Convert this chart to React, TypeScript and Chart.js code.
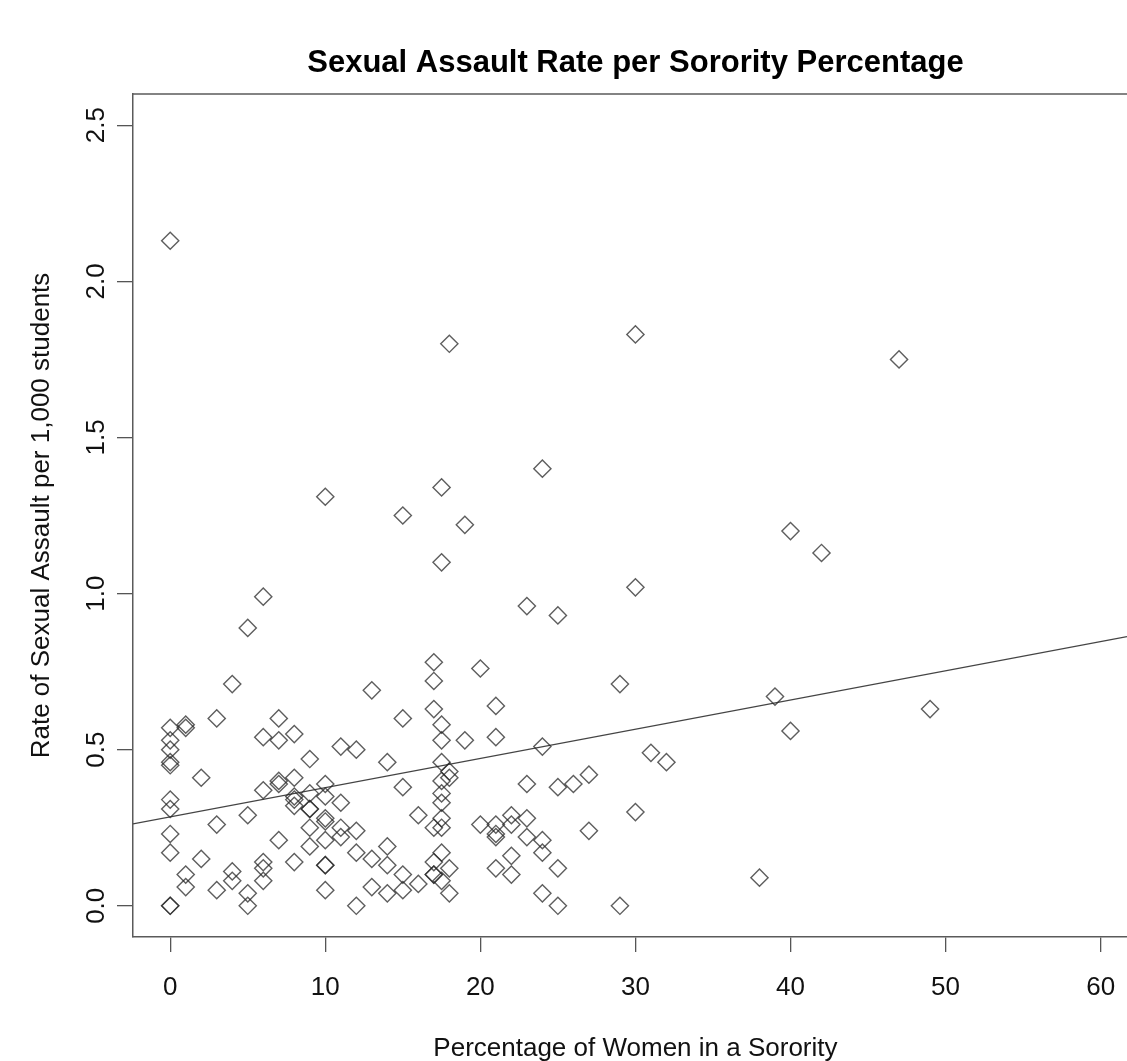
import React, { useEffect, useRef } from "react";
import { Chart, registerables } from "chart.js";

Chart.register(...registerables);

const TITLE = "Sexual Assault Rate per Sorority Percentage";
const X_LABEL = "Percentage of Women in a Sorority";
const Y_LABEL = "Rate of Sexual Assault per 1,000 students";

const X_TICKS = [0, 10, 20, 30, 40, 50, 60];
const X_TICK_LABELS = ["0", "10", "20", "30", "40", "50", "60"];
const Y_TICKS = [0, 0.5, 1, 1.5, 2, 2.5];
const Y_TICK_LABELS = ["0.0", "0.5", "1.0", "1.5", "2.0", "2.5"];

// axis ranges (R style 4% extension; right side cropped by the image)
const X_MIN = -2.4;
const X_MAX = 61.7;
const X_PLOT_RIGHT = 62.4;
const Y_MIN = -0.1;
const Y_MAX = 2.6;

// percentage of women in a sorority (x) and rate per 1,000 students (y)
const sororityPct = [
  0, 0, 0, 0, 0, 0, 0, 0, 0, 0, 0, 0,
  1, 1, 1, 1,
  2, 2,
  3, 3, 3,
  4, 4, 4,
  5, 5, 5, 5,
  6, 6, 6, 6, 6, 6,
  7, 7, 7, 7, 7,
  8, 8, 8, 8, 8, 8,
  9, 9, 9, 9, 9, 9,
  10, 10, 10, 10, 10, 10, 10, 10, 10,
  11, 11, 11, 11,
  12, 12, 12, 12,
  13, 13, 13,
  14, 14, 14, 14,
  15, 15, 15, 15, 15,
  16, 16,
  17, 17, 17, 17, 17, 17, 17,
  17.5, 17.5, 17.5, 17.5, 17.5, 17.5, 17.5, 17.5, 17.5, 17.5, 17.5, 17.5,
  18, 18, 18, 18, 18,
  19, 19,
  20, 20,
  21, 21, 21, 21, 21, 21,
  22, 22, 22, 22,
  23, 23, 23, 23,
  24, 24, 24, 24, 24,
  25, 25, 25, 25,
  26,
  27, 27,
  29, 29,
  30, 30, 30,
  31,
  32,
  38,
  39,
  40, 40,
  42,
  47,
  49,
];

const assaultRate = [
  2.13, 0.57, 0.53, 0.5, 0.46, 0.45, 0.34, 0.31, 0.23, 0.17, 0, 0,
  0.58, 0.57, 0.1, 0.06,
  0.41, 0.15,
  0.6, 0.26, 0.05,
  0.71, 0.11, 0.08,
  0.89, 0.29, 0.04, 0,
  0.99, 0.54, 0.37, 0.14, 0.12, 0.08,
  0.6, 0.53, 0.4, 0.39, 0.21,
  0.55, 0.41, 0.35, 0.34, 0.32, 0.14,
  0.47, 0.36, 0.31, 0.31, 0.25, 0.19,
  1.31, 0.39, 0.35, 0.28, 0.27, 0.21, 0.13, 0.13, 0.05,
  0.51, 0.33, 0.25, 0.22,
  0.5, 0.24, 0.17, 0,
  0.69, 0.15, 0.06,
  0.46, 0.19, 0.13, 0.04,
  1.25, 0.6, 0.38, 0.1, 0.05,
  0.29, 0.07,
  0.78, 0.72, 0.63, 0.25, 0.14, 0.1, 0.1,
  1.34, 1.1, 0.58, 0.53, 0.46, 0.4, 0.36, 0.33, 0.28, 0.25, 0.17, 0.08,
  1.8, 0.43, 0.41, 0.12, 0.04,
  1.22, 0.53,
  0.76, 0.26,
  0.64, 0.54, 0.26, 0.23, 0.22, 0.12,
  0.29, 0.26, 0.16, 0.1,
  0.96, 0.39, 0.28, 0.22,
  1.4, 0.51, 0.21, 0.17, 0.04,
  0.93, 0.38, 0.12, 0,
  0.39,
  0.42, 0.24,
  0.71, 0,
  1.83, 1.02, 0.3,
  0.49,
  0.46,
  0.09,
  0.67,
  1.2, 0.56,
  1.13,
  1.75,
  0.63,
];

// least-squares fit line (abline)
const FIT_INTERCEPT = 0.285;
const FIT_SLOPE = 0.00935;

const FONT = '"Liberation Sans", Arial, Helvetica, sans-serif';
const BASE_PX = 26;
const BOX_COLOR = "#5a5a5a";

const rTextPlugin = {
  id: "rText",
  afterDraw(chart: any) {
    const { ctx, chartArea, scales } = chart;
    const xs = scales.x;
    const ys = scales.y;
    ctx.save();
    // top border of the plot box
    ctx.strokeStyle = BOX_COLOR;
    ctx.lineWidth = 1.5;
    ctx.beginPath();
    ctx.moveTo(chartArea.left, chartArea.top);
    ctx.lineTo(chartArea.right, chartArea.top);
    ctx.stroke();

    ctx.fillStyle = "#111";
    ctx.font = `${BASE_PX}px ${FONT}`;
    ctx.textAlign = "center";
    ctx.textBaseline = "alphabetic";

    // x tick labels
    X_TICKS.forEach((v, i) => {
      ctx.fillText(X_TICK_LABELS[i], xs.getPixelForValue(v), 995);
    });
    // y tick labels (rotated, R las = 0)
    Y_TICKS.forEach((v, i) => {
      const y = ys.getPixelForValue(v);
      ctx.save();
      ctx.translate(104, y);
      ctx.rotate(-Math.PI / 2);
      ctx.fillText(Y_TICK_LABELS[i], 0, 0);
      ctx.restore();
    });

    const plotCenterX =
      (chartArea.left + xs.getPixelForValue(X_PLOT_RIGHT)) / 2;
    const plotCenterY = (chartArea.top + chartArea.bottom) / 2;

    // x axis title
    ctx.fillText(X_LABEL, plotCenterX, 1056);
    // y axis title
    ctx.save();
    ctx.translate(49, plotCenterY);
    ctx.rotate(-Math.PI / 2);
    ctx.fillText(Y_LABEL, 0, 0);
    ctx.restore();

    // main title
    ctx.fillStyle = "#000";
    ctx.font = `bold ${Math.round(BASE_PX * 1.2)}px ${FONT}`;
    ctx.fillText(TITLE, plotCenterX, 72);
    ctx.restore();
  },
};

export default function App() {
  const canvasRef = useRef<HTMLCanvasElement | null>(null);

  useEffect(() => {
    const canvas = canvasRef.current;
    if (!canvas) return;
    const points = sororityPct.map((x, i) => ({ x, y: assaultRate[i] }));
    const fitLine = [X_MIN, X_MAX].map((x) => ({
      x,
      y: FIT_INTERCEPT + FIT_SLOPE * x,
    }));

    const chart = new Chart(canvas, {
      type: "scatter",
      data: {
        datasets: [
          {
            label: "points",
            data: points,
            pointStyle: "rectRot",
            pointRadius: 8.6,
            pointBorderWidth: 1.4,
            borderColor: "rgba(40,40,40,0.75)",
            backgroundColor: "rgba(0,0,0,0)",
            pointBackgroundColor: "rgba(0,0,0,0)",
            pointBorderColor: "rgba(40,40,40,0.75)",
          } as any,
          {
            label: "fit",
            data: fitLine,
            showLine: true,
            pointRadius: 0,
            borderColor: "#444",
            borderWidth: 1.3,
            fill: false,
          } as any,
        ],
      },
      options: {
        animation: false,
        responsive: false,
        devicePixelRatio: 1,
        layout: {
          autoPadding: false,
          padding: { left: 0, top: 94, right: 0, bottom: 0 },
        },
        plugins: {
          legend: { display: false },
          tooltip: { enabled: false },
          title: { display: false },
        },
        scales: {
          x: {
            type: "linear",
            min: X_MIN,
            max: X_MAX,
            afterBuildTicks: (s: any) => {
              s.ticks = X_TICKS.map((v) => ({ value: v }));
            },
            afterFit: (s: any) => {
              s.height = 124;
            },
            grid: {
              drawOnChartArea: false,
              drawTicks: true,
              tickLength: 15,
              color: "#555",
              lineWidth: 1.3,
            },
            border: { display: true, color: BOX_COLOR, width: 1.5 },
            ticks: { display: false },
          },
          y: {
            type: "linear",
            min: Y_MIN,
            max: Y_MAX,
            afterBuildTicks: (s: any) => {
              s.ticks = Y_TICKS.map((v) => ({ value: v }));
            },
            afterFit: (s: any) => {
              s.width = 133;
            },
            grid: {
              drawOnChartArea: false,
              drawTicks: true,
              tickLength: 16,
              color: "#555",
              lineWidth: 1.3,
            },
            border: { display: true, color: BOX_COLOR, width: 1.5 },
            ticks: { display: false },
          },
        },
      },
      plugins: [rTextPlugin],
    });
    return () => chart.destroy();
  }, []);

  return (
    <div
      style={{
        position: "absolute",
        left: 0,
        top: 0,
        width: 1127,
        height: 1061,
        background: "#fff",
      }}
    >
      <canvas
        ref={canvasRef}
        width={1127}
        height={1061}
        style={{ display: "block", width: 1127, height: 1061 }}
      />
    </div>
  );
}
